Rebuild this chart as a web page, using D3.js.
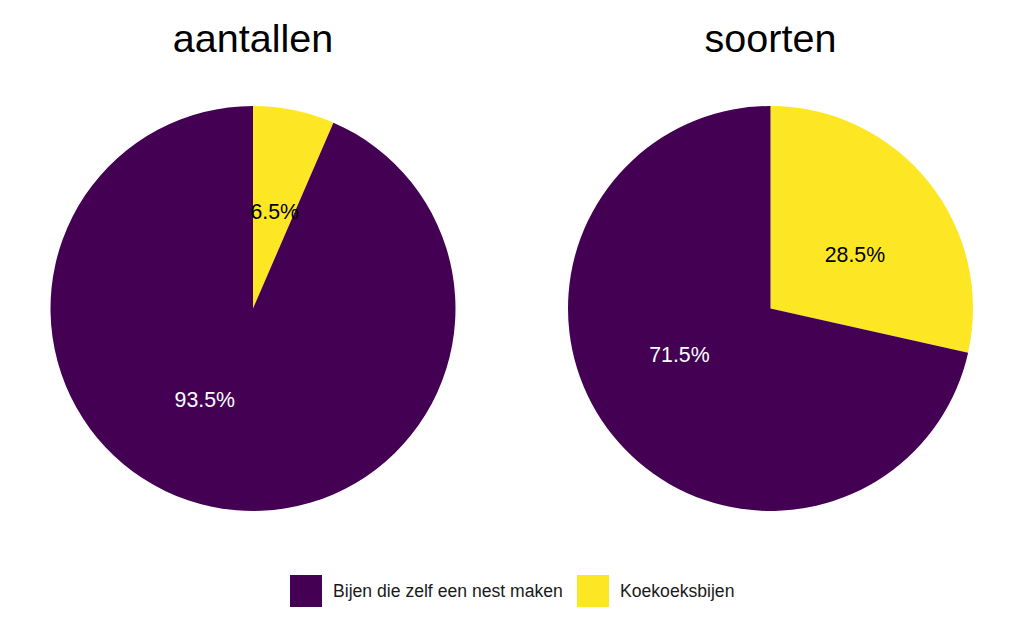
<!DOCTYPE html>
<html>
<head>
<meta charset="utf-8">
<script src="https://cdn.jsdelivr.net/npm/d3@7"></script>
<style>
  body { margin: 0; background: #fff; }
  text { font-family: "Liberation Sans", Arial, sans-serif; }
</style>
</head>
<body>
<div id="chart-area"></div>
<script>

// Data

let panels = ["aantallen", "soorten"];
let groups = ["Koekoeksbijen", "Bijen die zelf een nest maken"];
let percentages = [
	[6.5, 93.5],   // aantallen
	[28.5, 71.5]   // soorten
];
// where ggplot put each label along the stack
let labelAt = [
	[3.45, 57.9],
	[15.7, 67.8]
];
let legendOrder = ["Bijen die zelf een nest maken", "Koekoeksbijen"];

let width = 1024,
    height = 627;

let svg = d3.select("#chart-area").append("svg")
    .attr("width", width)
    .attr("height", height);

// Scales

let color = d3.scaleOrdinal()
	.domain(["Bijen die zelf een nest maken", "Koekoeksbijen"])
	.range(["#440154", "#FDE725"]);

let textColor = d3.scaleOrdinal()
	.domain(["Bijen die zelf een nest maken", "Koekoeksbijen"])
	.range(["#ffffff", "#000000"]);

let panelX = d3.scalePoint()
	.domain(panels)
	.range([253, 770.5]);

let angle = d3.scaleLinear()
	.domain([0, 100])
	.range([0, 2 * Math.PI]);

let radius = 202.5,
    cy = 308.5;

let arc = d3.arc()
	.innerRadius(0)
	.outerRadius(radius);

// Draw pies

panels.forEach(function(p, i){
	let g = svg.append("g")
		.attr("transform", "translate(" + panelX(p) + "," + cy + ")");

	let cum = 0;
	let slices = groups.map(function(grp, j){
		let s = {group: grp, value: percentages[i][j], start: cum, label: labelAt[i][j]};
		cum += percentages[i][j];
		s.end = cum;
		return s;
	});

	g.selectAll(".slice")
		.data(slices)
		.enter()
		.append("path")
		.attr("class", "slice")
		.attr("fill", d => color(d.group))
		.attr("d", d => arc({startAngle: angle(d.start), endAngle: angle(d.end)}));

	g.selectAll(".lbl")
		.data(slices)
		.enter()
		.append("text")
		.attr("class", "lbl")
		.attr("x", d => Math.sin(angle(d.label)) * radius / 2)
		.attr("y", d => -Math.cos(angle(d.label)) * radius / 2)
		.attr("dy", "0.45em")
		.attr("text-anchor", "middle")
		.attr("font-size", 21.3)
		.attr("fill", d => textColor(d.group))
		.text(d => d.value.toFixed(1) + "%");

	svg.append("text")
		.attr("x", panelX(p))
		.attr("y", 51.5)
		.attr("text-anchor", "middle")
		.attr("font-size", 39.5)
		.attr("fill", "#000")
		.text(p);
});

// Legend

let legendX = [290, 577];

let legend = svg.selectAll(".legend")
	.data(legendOrder)
	.enter()
	.append("g")
	.attr("class", "legend")
	.attr("transform", (d, i) => "translate(" + legendX[i] + ",575)");

legend.append("rect")
	.attr("width", 32)
	.attr("height", 32)
	.attr("fill", d => color(d));

legend.append("text")
	.attr("x", 43)
	.attr("y", 16)
	.attr("dy", "0.36em")
	.attr("font-size", 17.6)
	.attr("fill", "#1a1a1a")
	.text(d => d);

</script>
</body>
</html>
